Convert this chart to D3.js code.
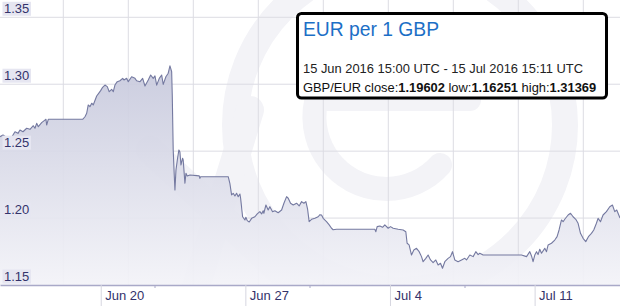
<!DOCTYPE html>
<html>
<head>
<meta charset="utf-8">
<script src="https://cdn.jsdelivr.net/npm/d3@7"></script>
<style>
html,body{margin:0;padding:0;background:#fff;}
svg{display:block;font-family:"Liberation Sans",Arial,sans-serif;}
</style>
</head>
<body>
<svg id="chart" width="620" height="306"></svg>
<script>
// ---- data ----
const startTime = "2016-06-15T15:00:00Z";
const endTime = "2016-07-15T15:11:00Z";
// hours since startTime
const hours = [0,3.5,11.6,17.4,20.9,23.2,26.7,31,34.8,38.7,40.6,42.6,44.5,48.4,51.4,53.4,54.2,56.1,96,98.7,
100.7,102.5,104.5,106.5,108.3,112.3,114.6,116.9,119.2,121.9,124.6,126.9,129.7,131.6,133.5,136.2,139.3,142.5,144,147.1,
149,152.9,156.8,158.7,162.6,165.7,168.4,172.2,175,178,180,182,185,187.8,189.6,192.7,195.4,197.4,199.4,200.1,
201.2,202.4,203.2,204.4,206.3,207.8,209,210.2,212.1,212.8,214.8,216,217.5,220.6,231.4,232.2,233,265.1,267,269,
270.9,272.9,274.8,276.7,278.7,279.5,281.8,284.5,285.6,287.2,289.5,292.3,296.1,298.8,301.9,303.9,305.7,306.5,308.9,311.5,
313.5,316.6,319.3,323.1,327.1,329.8,332.9,334.8,337.5,340.6,344.5,347.5,350.3,353,355.3,357.3,359.1,361.9,365.8,369.6,
371.6,373.5,375.4,379.3,382.4,385.1,387,391,435.4,436.6,438.1,441.2,444.4,447,450.9,453.6,456.7,462.5,468.3,471.4,
472.9,475.2,478,480.7,483.8,486.9,489.6,491.5,494.6,497.3,500.1,503.1,506.2,508.9,511.7,514,516.7,520.5,523.3,525.6,
528.3,532.1,536.1,539.9,541.9,545.7,549.6,552.7,555.4,557.3,561.2,605.8,611.6,615.4,617.4,619.2,621.2,623.2,625,627,
629,632.8,634.8,636.7,640.6,644.4,647.1,649.4,652.2,654.1,656,659.9,662.7,665.7,668.8,671.5,674.3,677.3,680.4,683.5,
687,689.7,692.8,694.7,697.5,700.5,704.4,708.3,711.4,714.1,716.4,720.2];
const rates = [1.2608,1.2621,1.2583,1.2645,1.2633,1.2658,1.2645,1.2671,1.2663,1.2690,1.2671,1.2708,1.2683,1.2713,1.2728,1.2738,1.2695,1.2738,1.2738,1.2757,
1.2783,1.2845,1.2832,1.2858,1.2845,1.2912,1.2932,1.2952,1.2977,1.2994,1.2982,1.2944,1.2962,1.2944,1.2994,1.3019,1.3026,1.3044,1.3032,1.3044,
1.3019,1.3056,1.3044,1.3026,1.3019,1.3044,1.2987,1.3032,1.3069,1.3044,1.3062,1.2993,1.3044,1.3069,1.2999,1.3056,1.3082,1.3137,1.3094,1.2920,
1.2509,1.2322,1.2210,1.2359,1.2449,1.2509,1.2494,1.2397,1.2447,1.2434,1.2260,1.2335,1.2315,1.2322,1.2315,1.2297,1.2309,1.2309,1.2260,1.2173,
1.2185,1.2165,1.2185,1.2160,1.2180,1.2148,1.2010,1.1986,1.2006,1.1981,1.1971,1.1998,1.2010,1.2031,1.2048,1.2031,1.2055,1.2036,1.2098,1.2060,
1.2085,1.2048,1.2055,1.2040,1.2060,1.2111,1.2160,1.2148,1.2111,1.2098,1.2111,1.2091,1.2123,1.2111,1.2123,1.2066,1.1973,1.1991,1.1998,1.2010,
1.2025,1.2023,1.1998,1.1973,1.1949,1.1924,1.1913,1.1916,1.1916,1.1898,1.1936,1.1941,1.1931,1.1949,1.1924,1.1936,1.1924,1.1916,1.1911,1.1898,
1.1812,1.1800,1.1724,1.1762,1.1774,1.1749,1.1712,1.1674,1.1699,1.1724,1.1687,1.1667,1.1687,1.1650,1.1662,1.1625,1.1674,1.1699,1.1712,1.1749,
1.1687,1.1674,1.1687,1.1699,1.1687,1.1724,1.1712,1.1749,1.1727,1.1737,1.1724,1.1724,1.1712,1.1749,1.1717,1.1674,1.1724,1.1749,1.1727,1.1767,
1.1737,1.1774,1.1749,1.1799,1.1812,1.1836,1.1861,1.1911,1.1986,1.1973,1.1991,1.2023,1.2036,1.2010,1.1991,1.1961,1.1886,1.1849,1.1824,1.1861,
1.1886,1.1911,1.1961,1.1998,1.1973,1.2023,1.2048,1.2085,1.2098,1.2048,1.2060,1.2000];
const yTicks = [1.15,1.20,1.25,1.30,1.35];
const xTickDates = ["2016-06-20T12:00:00Z","2016-06-27T12:00:00Z","2016-07-04T12:00:00Z","2016-07-11T12:00:00Z"];
const xTickLabels = ["Jun 20","Jun 27","Jul 4","Jul 11"];
const titleText = "EUR per 1 GBP";
const rangeText = "15 Jun 2016 15:00 UTC - 15 Jul 2016 15:11 UTC";
const pairLabel = "GBP/EUR";
const statNames = ["close:","low:","high:"];
const statValues = ["1.19602","1.16251","1.31369"];

// ---- layout ----
const W = 620, H = 306;
const plotTop = 17.3, plotBottom = 285;
const svg = d3.select("#chart");

const t0 = new Date(startTime), t1 = new Date(endTime);
const x = d3.scaleUtc().domain([t0, t1]).range([0, W]);
const y = d3.scaleLinear().domain([1.15, 1.35]).range([plotBottom, plotTop]);

const data = hours.map((h, i) => ({ t: new Date(t0.getTime() + h * 3600000), v: rates[i] }));

// defs
const defs = svg.append("defs");
const grad = defs.append("linearGradient").attr("id", "areaGrad")
  .attr("gradientUnits", "userSpaceOnUse").attr("x1", 0).attr("x2", 0).attr("y1", 60).attr("y2", plotBottom);
grad.append("stop").attr("offset", "0%").attr("stop-color", "#c6c8dc").attr("stop-opacity", 0.93);
grad.append("stop").attr("offset", "100%").attr("stop-color", "#f3f3f8").attr("stop-opacity", 0.93);
defs.append("clipPath").attr("id", "plotClip").append("rect")
  .attr("x", 0).attr("y", 0).attr("width", W).attr("height", plotBottom);

// watermark (faint logo)
const wm = svg.append("g").attr("clip-path", "url(#plotClip)")
  .attr("fill", "none").attr("stroke", "#f3f3f7").attr("stroke-linecap", "round");
wm.append("circle").attr("cx", 400).attr("cy", 125).attr("r", 165).attr("stroke-width", 26);
wm.append("path").attr("d", "M455,95 A72,72 0 1 0 440,165").attr("stroke-width", 24);
wm.append("path").attr("d", "M320,100 L470,100").attr("stroke-width", 22);
wm.append("path").attr("d", "M150,150 L300,290").attr("stroke-width", 28);
wm.append("path").attr("d", "M250,110 L195,290").attr("stroke-width", 28);

// vertical background grid (fixed pixel spacing)
const gridX = d3.range(63.3, W, 65);
svg.append("g").selectAll("line").data(gridX).join("line")
  .attr("x1", d => d).attr("x2", d => d).attr("y1", 0).attr("y2", plotBottom)
  .attr("stroke", "#dcdce3").attr("stroke-width", 1);
// horizontal grid
svg.append("g").selectAll("line").data(yTicks.slice(1)).join("line")
  .attr("x1", 0).attr("x2", W).attr("y1", d => y(d)).attr("y2", d => y(d))
  .attr("stroke", "#dcdce3").attr("stroke-width", 1);

// area + line
const area = d3.area().x(d => x(d.t)).y0(plotBottom).y1(d => y(d.v));
const line = d3.line().x(d => x(d.t)).y(d => y(d.v));
svg.append("path").datum(data).attr("d", area).attr("fill", "url(#areaGrad)");
svg.append("path").datum(data).attr("d", line).attr("fill", "none")
  .attr("stroke", "#7479a0").attr("stroke-width", 1.1).attr("stroke-linejoin", "round");

// y labels with boxes
const yl = svg.append("g").selectAll("g").data(yTicks).join("g")
  .attr("transform", d => `translate(0,${y(d)})`);
yl.append("rect").attr("x", 2.5).attr("y", -15.5).attr("width", 28.5).attr("height", 14)
  .attr("fill", "#e6e6f1");
yl.append("text").attr("x", 4).attr("y", -4).attr("font-size", 13).attr("fill", "#33336b")
  .text(d => d3.format(".2f")(d));

// bottom axis
const majors = xTickDates.map(s => new Date(s));
const xAxis = d3.axisBottom(x).tickValues(majors).tickSize(21).tickSizeOuter(0)
  .tickFormat((d, i) => xTickLabels[i]);
const ax = svg.append("g").attr("transform", `translate(0,${plotBottom})`).call(xAxis);
ax.select(".domain").attr("stroke", "#a9a9c8").attr("stroke-width", 1.5);
ax.selectAll(".tick line").attr("stroke", "#d6d6e0").attr("stroke-width", 1);
ax.selectAll(".tick text").attr("text-anchor", "start").attr("x", 4).attr("y", 0).attr("dy", "14.5")
  .attr("font-size", 13).attr("font-family", "'Liberation Sans',Arial,sans-serif").attr("fill", "#33336b");
// minor ticks at quarters of the range
const minors = [1, 2, 3].map(k => new Date(t0.getTime() + (t1 - t0) * k / 4));
svg.append("g").selectAll("line").data(minors).join("line")
  .attr("x1", d => x(d)).attr("x2", d => x(d)).attr("y1", plotBottom).attr("y2", plotBottom + 3)
  .attr("stroke", "#a9a9c8").attr("stroke-width", 1);

// info box
const box = svg.append("g");
box.append("rect").attr("x", 297.5).attr("y", 13.5).attr("width", 309).attr("height", 84.5)
  .attr("rx", 4).attr("fill", "#fff").attr("stroke", "#000").attr("stroke-width", 3);
box.append("text").attr("x", 303).attr("y", 36).attr("font-size", 19.3).attr("fill", "#1c6fc6").text(titleText);
box.append("text").attr("x", 303).attr("y", 73).attr("font-size", 12.9).attr("fill", "#222").text(rangeText);
const st = box.append("text").attr("x", 303).attr("y", 91.5).attr("font-size", 12.9).attr("fill", "#111");
st.append("tspan").text(pairLabel + " ");
statNames.forEach((n, i) => {
  st.append("tspan").text(n);
  st.append("tspan").attr("font-weight", "bold").text(statValues[i] + (i < statNames.length - 1 ? " " : ""));
});
</script>
</body>
</html>
